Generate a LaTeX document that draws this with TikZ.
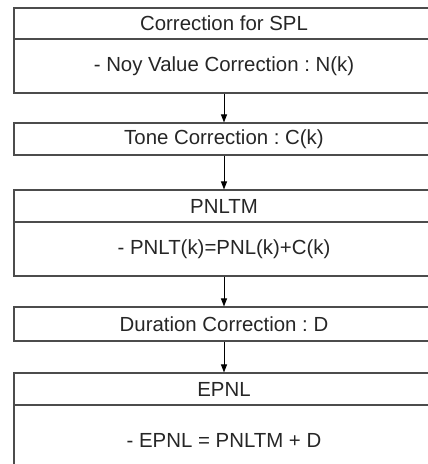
\documentclass[tikz,border=0pt]{standalone}
\usepackage{fontspec}
\setmainfont{Liberation Sans}
\usetikzlibrary{arrows.meta}
\frenchspacing
\begin{document}
\begin{tikzpicture}[x=1pt,y=-1pt,
  part/.style={draw=black!70, line width=1.1pt, minimum width=420pt,
    inner sep=0pt, font=\fontsize{20.4}{24}\selectfont, text=black!85},
  flow/.style={-{Triangle[length=8pt,width=6pt]}, line width=0.9pt, black}]
\useasboundingbox (0,0) rectangle (428,464);
% stage 1: SPL correction
\node[part, minimum height=31pt] (spl) at (224,23.5) {Correction for SPL};
\node[part, minimum height=54pt] (noy) at (224,66) {- Noy Value Correction : N(k)};
% stage 2: tone correction
\node[part, minimum height=32pt] (tone) at (224,139) {Tone Correction : C(k)};
% stage 3: PNLTM
\node[part, minimum height=32pt] (pnltm) at (224,206) {PNLTM};
\node[part, minimum height=54pt] (pnlt) at (224,249) {- PNLT(k)=PNL(k)+C(k)};
% stage 4: duration correction
\node[part, minimum height=34pt] (dur) at (224,324) {Duration Correction : D};
% stage 5: EPNL
\node[part, minimum height=32pt] (epnl) at (224,389) {EPNL};
\node[part, minimum height=70pt] (epnleq) at (224,440) {- EPNL = PNLTM + D};
% flow between stages
\draw[flow] (noy.south) -- (tone.north);
\draw[flow] (tone.south) -- (pnltm.north);
\draw[flow] (pnlt.south) -- (dur.north);
\draw[flow] (dur.south) -- (epnl.north);
\end{tikzpicture}
\end{document}
